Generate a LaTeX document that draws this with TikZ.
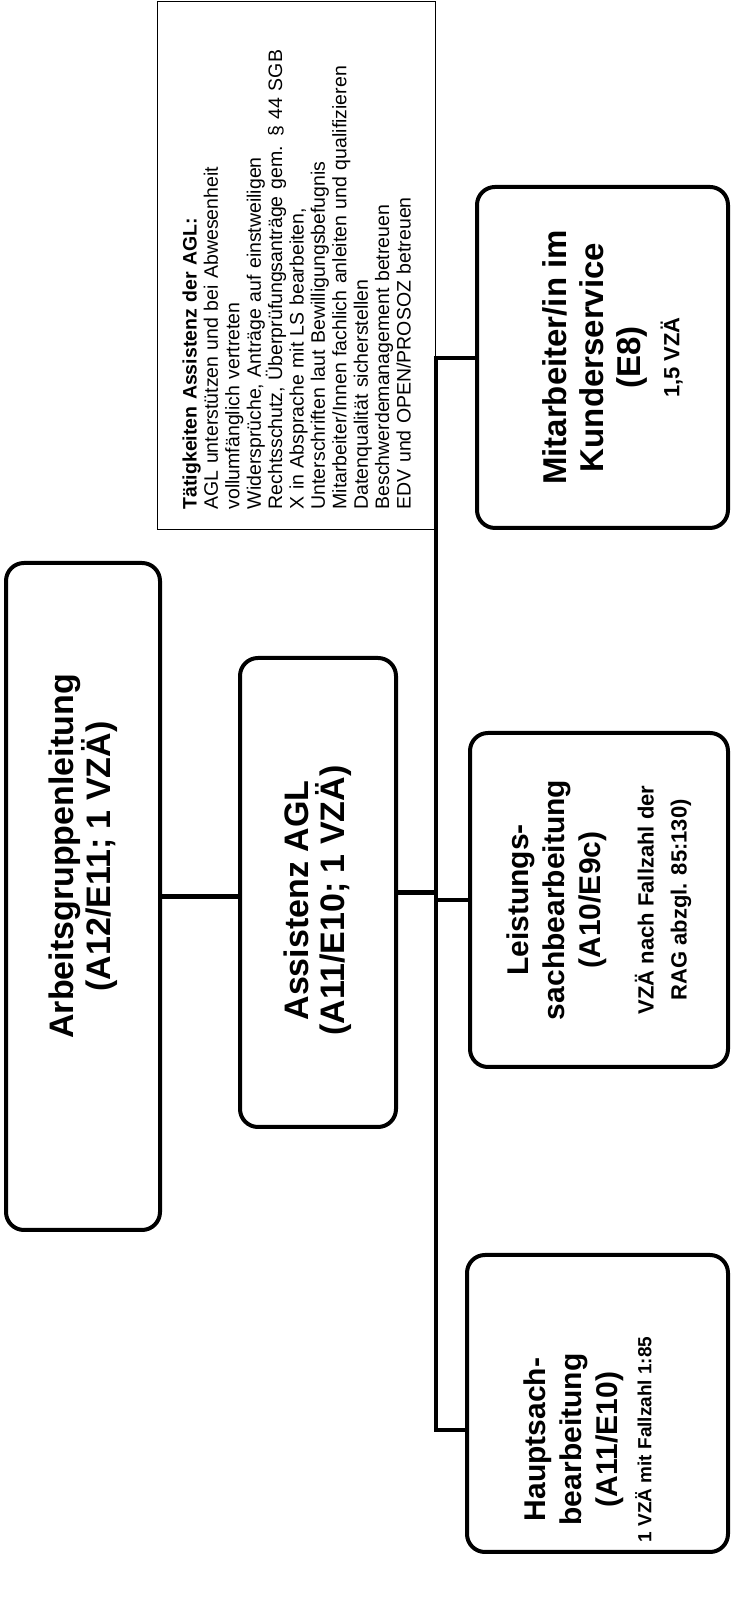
\documentclass[tikz,border=0pt]{standalone}
\usepackage{fontspec}
\setmainfont{Liberation Sans}                % Arial widths
\usepackage{tikz}

\newcommand{\subText}{\fontsize{22}{26}\selectfont}
\newcommand{\noteText}{\fontsize{19}{23}\selectfont}

\begin{document}
\begin{tikzpicture}[x = 1pt, y = 1pt, rotate = 90, transform shape,
                    orgBox/.style   = {draw = black, line width = 4pt, rectangle, rounded corners = 18pt, inner sep = 0pt},
                    boxText/.style  = {align = center, inner sep = 0pt},
                    headFont/.style = {font = \bfseries\fontsize{34}{36}\selectfont},
                    unitFont/.style = {font = \bfseries\fontsize{30}{36}\selectfont},
                    orgLine/.style  = {line width = 4.5pt}]
    \useasboundingbox (0, 0) rectangle (1611, -732);

    \node [orgBox, minimum width = 667pt, minimum height = 154pt,
           label = {[boxText, headFont, xshift = 40pt]center:{Arbeitsgruppenleitung\\(A12/E11; 1 VZÄ)}}]                         (aglBox)    at (714.5, -83)     {};
    \node [orgBox, minimum width = 469pt, minimum height = 156pt,
           label = {[boxText, headFont, xshift = -8pt]center:{Assistenz AGL\\(A11/E10; 1 VZÄ)}}]                                (assistBox) at (718.5, -318)    {};
    \node [orgBox, minimum width = 341pt, minimum height = 251pt,
           label = {[boxText, headFont, font = \bfseries\fontsize{33}{37}\selectfont, yshift = -10pt]center:{Mitarbeiter/in im\\Kunderservice\\(E8)\\[2pt]\subText 1,5 VZÄ}}] (kundenBox) at (1253.5, -602.5) {};
    \node [orgBox, minimum width = 334pt, minimum height = 258pt,
           label = {[boxText, unitFont]center:{Leistungs-\\sachbearbeitung\\(A10/E9c)\\[17pt]\subText VZÄ nach Fallzahl der\\[-3pt]\subText RAG abzgl. 85:130)}}] (leistBox) at (711, -599) {};
    \node [orgBox, minimum width = 297pt, minimum height = 261pt,
           label = {[boxText, unitFont, xshift = -36pt, yshift = 10pt]center:{Hauptsach-\\bearbeitung\\(A11/E10)\\[-2pt]\noteText 1 VZÄ mit Fallzahl 1:85}}] (hauptBox) at (207.5, -597.5) {};

    \node [draw = black, line width = 1.2pt, rectangle, anchor = north west, minimum width = 528pt, minimum height = 278pt,
           text width = 488pt, inner xsep = 20pt, inner ysep = 0pt, align = left, font = \fontsize{19.5}{21.4}\selectfont] (taskBox) at (1081, -157)
          {\textbf{Tätigkeiten Assistenz der AGL:}\\
           AGL unterstützen und bei Abwesenheit\\
           vollumfänglich vertreten\\
           Widersprüche, Anträge auf einstweiligen\\
           Rechtsschutz, Überprüfungsanträge gem. § 44 SGB\\
           X in Absprache mit LS bearbeiten,\\
           Unterschriften laut Bewilligungsbefugnis\\
           Mitarbeiter/Innen fachlich anleiten und qualifizieren\\
           Datenqualität sicherstellen\\
           Beschwerdemanagement betreuen\\
           EDV und OPEN/PROSOZ betreuen};

    \coordinate (busStart) at (1253, -436);
    \coordinate (busEnd)   at (181, -436);

    \draw [orgLine] (aglBox.south) -- (aglBox.south |- assistBox.north);
    \draw [orgLine] (assistBox.south) -- (assistBox.south |- busStart);
    \draw [orgLine] (busStart |- kundenBox.north) -- (busStart) -- (busEnd) -- (busEnd |- hauptBox.north);
    \draw [orgLine] (leistBox.north |- busStart) -- (leistBox.north);
\end{tikzpicture}
\end{document}
